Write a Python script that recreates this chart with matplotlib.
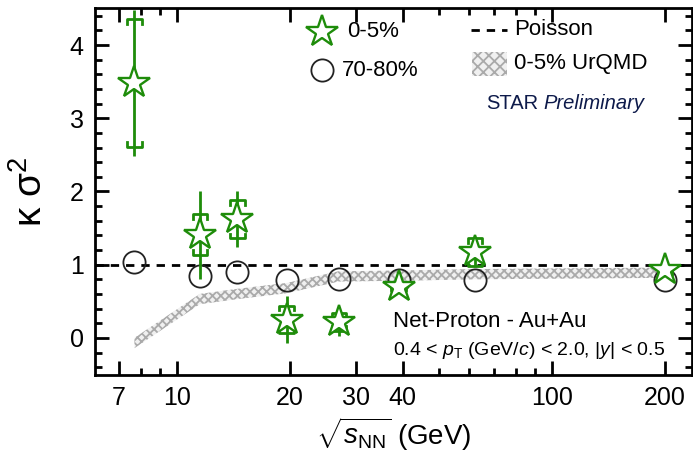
import numpy as np
import matplotlib
matplotlib.use('Agg')
import matplotlib.pyplot as plt
from matplotlib.ticker import FixedLocator, NullFormatter, FixedFormatter

plt.rcParams['font.family'] = ['Liberation Sans', 'DejaVu Sans']
plt.rcParams['mathtext.fontset'] = 'custom'
plt.rcParams['mathtext.rm'] = 'Liberation Sans'
plt.rcParams['mathtext.it'] = 'Liberation Sans:italic'
plt.rcParams['hatch.color'] = '#aaaaaa'
plt.rcParams['hatch.linewidth'] = 1.3

# net-proton kappa*sigma^2, 0-5% central
energy = [7.7, 11.5, 14.5, 19.6, 27, 39, 62.4, 200]
central_val = [3.48, 1.41, 1.62, 0.25, 0.22, 0.70, 1.17, 0.93]
central_stat = [1.00, 0.60, 0.38, 0.32, 0.20, 0.07, 0.20, 0.08]
central_sys = [0.87, 0.28, 0.26, 0.19, 0.12, 0.06, 0.19, 0.07]

# 70-80% peripheral
periph_val = [1.03, 0.84, 0.90, 0.79, 0.81, 0.79, 0.79, 0.79]

# UrQMD 0-5% band
urqmd_e = [7.7, 11.5, 14.5, 19.6, 27, 39, 62.4, 200]
urqmd_val = [-0.07, 0.53, 0.60, 0.68, 0.84, 0.85, 0.87, 0.89]
urqmd_err = [0.07, 0.07, 0.07, 0.07, 0.07, 0.07, 0.07, 0.07]

xticks = [7, 10, 20, 30, 40, 100, 200]
green = '#1e8c0a'

fig = plt.figure(figsize=(6.93, 4.57), dpi=100)
ax = fig.add_axes([0.137, 0.179, 0.861, 0.804])
ax.set_xscale('log')
ax.set_xlim(6.04, 236)
ax.set_ylim(-0.51, 4.51)

ue = np.array(urqmd_e)
uv = np.array(urqmd_val)
ur = np.array(urqmd_err)
ax.fill_between(ue, uv - ur, uv + ur, facecolor='#f0f0f0', edgecolor='#aaaaaa',
                hatch='xxxx', linewidth=0, zorder=1)

ax.axhline(1.0, color='black', ls=(0, (3, 2.5)), lw=2.0, zorder=2)

ax.plot(energy, periph_val, 'o', ms=16, mfc='none', mec='#222222', mew=1.3, zorder=3)

e = np.array(energy)
cv = np.array(central_val)
cs = np.array(central_sys)
ax.errorbar(e, cv, yerr=central_stat, fmt='none', ecolor=green, elinewidth=2, capsize=0, zorder=4)
# systematic brackets
f = 10 ** 0.019
leg = 0.065
for xi, yi, si in zip(e, cv, cs):
    ax.plot([xi / f, xi / f, xi * f, xi * f], [yi + si - leg, yi + si, yi + si, yi + si - leg],
            color=green, lw=2, zorder=4)
    ax.plot([xi / f, xi / f, xi * f, xi * f], [yi - si + leg, yi - si, yi - si, yi - si + leg],
            color=green, lw=2, zorder=4)
ax.plot(energy, central_val, '*', ms=24, mfc='white', mec=green, mew=1.7, zorder=5)

# legend, drawn by hand
ax.plot([0.38], [0.935], '*', ms=24, mfc='white', mec=green, mew=1.7, transform=ax.transAxes, clip_on=False)
ax.text(0.422, 0.935, '0-5%', transform=ax.transAxes, fontsize=16, va='center')
ax.plot([0.38], [0.83], 'o', ms=16, mfc='none', mec='#222222', mew=1.3, transform=ax.transAxes)
ax.text(0.414, 0.83, '70-80%', transform=ax.transAxes, fontsize=16, va='center')
ax.plot([0.63, 0.69], [0.94, 0.94], color='black', ls=(0, (3, 2.5)), lw=2.0, transform=ax.transAxes)
ax.text(0.703, 0.94, 'Poisson', transform=ax.transAxes, fontsize=16, va='center')
ax.add_patch(plt.Rectangle((0.632, 0.815), 0.058, 0.065, transform=ax.transAxes, facecolor='#f0f0f0',
                           edgecolor='#aaaaaa', hatch='xxx', linewidth=0))
ax.text(0.703, 0.848, '0-5% UrQMD', transform=ax.transAxes, fontsize=16, va='center')
ax.text(0.655, 0.74, 'STAR', transform=ax.transAxes, fontsize=14.5, va='center', color='#0d1a4a')
ax.text(0.752, 0.74, 'Preliminary', transform=ax.transAxes, fontsize=14.5, va='center',
        color='#0d1a4a', style='italic')

ax.text(0.5, 0.145, 'Net-Proton - Au+Au', transform=ax.transAxes, fontsize=16, va='center')
ax.text(0.5, 0.068, r'0.4 < $p_{\rm T}$ (GeV/$c$) < 2.0, |$y$| < 0.5', transform=ax.transAxes,
        fontsize=14, va='center')

ax.xaxis.set_major_locator(FixedLocator(xticks))
ax.xaxis.set_major_formatter(FixedFormatter([str(t) for t in xticks]))
minors = [8, 9, 50, 60, 70, 80, 90]
ax.xaxis.set_minor_locator(FixedLocator(minors))
ax.xaxis.set_minor_formatter(NullFormatter())
ax.set_yticks([0, 1, 2, 3, 4])
ax.yaxis.set_minor_locator(FixedLocator(np.arange(-0.4, 4.6, 0.2)))
ax.tick_params(which='both', direction='in', top=True, right=True, width=2, labelsize=18)
ax.tick_params(which='major', length=10, pad=8)
ax.tick_params(which='minor', length=5)
for sp in ax.spines.values():
    sp.set_linewidth(2)

ax.set_xlabel(r'$\sqrt{s_{\rm NN}}$ (GeV)', fontsize=20, labelpad=4)
ax.set_ylabel('κ σ$^2$', fontsize=28, labelpad=14)

fig.savefig('out.png', dpi=100)
